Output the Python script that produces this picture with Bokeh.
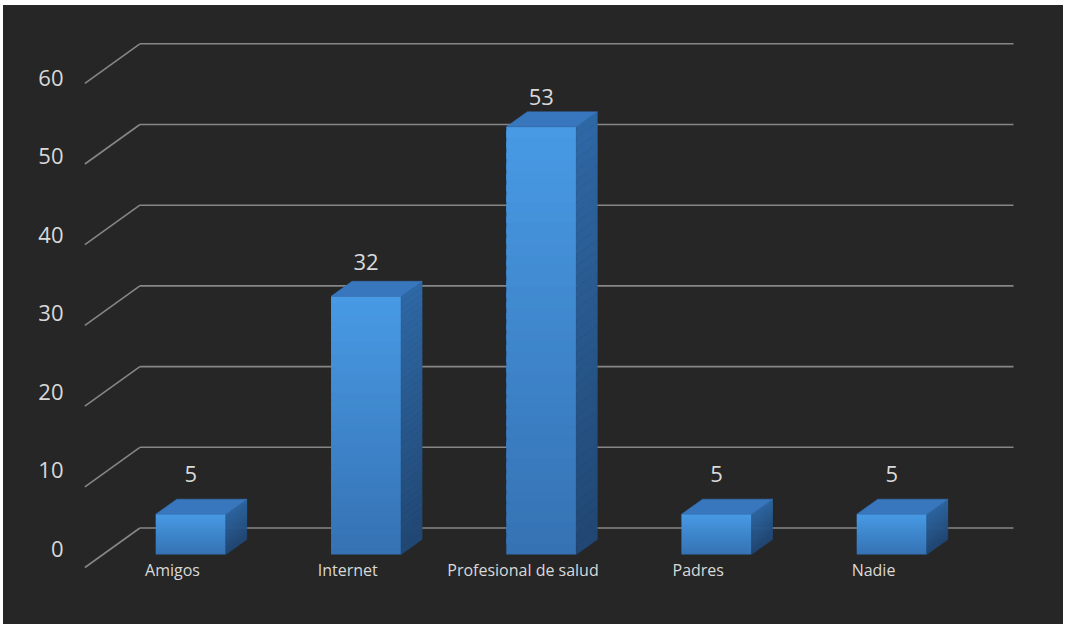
from bokeh.plotting import figure
from bokeh.models import Range1d, LinearAxis, FixedTicker
from bokeh.core.properties import value
from bokeh.embed import file_html
from bokeh.resources import INLINE

# ---- data ----
categories = ["Amigos", "Internet", "Profesional de salud", "Padres", "Nadie"]
values = [5, 32, 53, 5, 5]
y_ticks = [0, 10, 20, 30, 40, 50, 60]

# ---- style ----
BG = "#262626"
TXT = "#d9d9d9"
GRID = "#868686"
FONT = "Open Sans"

W, H = 1060, 619
ML = 72
# front-plane mapping in figure pixels
PX0 = 169.0     # x pixel of category 0
PXU = 175.25    # px per category
PY0 = 562.0     # y pixel (from top) of value 0
PYU = 8.07      # px per value unit
# label projection
LY0 = 543.0
LYU = 7.85

x_start = (ML - PX0) / PXU
x_end = (W - PX0) / PXU
y_start = (PY0 - H) / PYU
y_end = PY0 / PYU

# depth offsets in data units
DXu = 55 / PXU
DYu = 39.5 / PYU
BX = 18.3 / PXU
BY = 13 / PYU
SX = 21 / PXU
SY = 15 / PYU
HW = 35 / PXU

p = figure(width=W, height=H,
           x_range=Range1d(x_start, x_end), y_range=Range1d(y_start, y_end),
           output_backend="svg", toolbar_location=None,
           background_fill_color=None, border_fill_color=None,
           outline_line_color=None,
           min_border_left=ML, min_border_right=0, min_border_top=0, min_border_bottom=0,
           x_axis_location=None, y_axis_location=None,
           margin=(5, 2, 0, 3),
           styles={"background-color": BG})
p.grid.grid_line_color = None
p.extra_y_ranges = {"lab": Range1d((LY0 - H) / LYU, LY0 / LYU)}

n = len(categories)
# gridlines: side wall diagonals + back wall horizontals
p.segment(x0=[-0.5] * len(y_ticks), y0=y_ticks,
          x1=[-0.5 + DXu] * len(y_ticks), y1=[t + DYu for t in y_ticks],
          line_color=GRID, line_width=1.6)
p.segment(x0=[-0.5 + DXu] * len(y_ticks), y0=[t + DYu for t in y_ticks],
          x1=[n - 0.5 + DXu - 0.015] * len(y_ticks), y1=[t + DYu for t in y_ticks],
          line_color=GRID, line_width=1.6)


def mix(c1, c2, f):
    return "#%02x%02x%02x" % tuple(int(round(a + (b - a) * f)) for a, b in zip(c1, c2))


FRONT_TOP = (0x48, 0x9a, 0xe5)
FRONT_BOT = (0x35, 0x72, 0xb3)
SIDE_TOP = (0x2e, 0x68, 0xa5)
SIDE_BOT = (0x21, 0x47, 0x73)
TOP_COL = "#3876bd"

N = 40
for i, v in enumerate(values):
    xl = i - HW + BX
    xr = i + HW + BX
    y0 = BY
    y1 = v + BY
    step = (y1 - y0) / N
    lefts, rights, bots, tops, cols = [], [], [], [], []
    sxs, sys_, scols = [], [], []
    for k in range(N):
        a = y0 + step * k
        b = min(y0 + step * (k + 1.6), y1)
        bs = y0 + step * (k + 1)
        f = (k + 0.5) / N
        lefts.append(xl); rights.append(xr); bots.append(a); tops.append(b)
        cols.append(mix(FRONT_BOT, FRONT_TOP, f))
        sxs.append([xr, xr + SX, xr + SX, xr])
        sys_.append([a, a + SY, bs + SY, bs])
        scols.append(mix(SIDE_BOT, SIDE_TOP, f))
    p.quad(left=lefts, right=rights, bottom=bots, top=tops,
           fill_color=cols, line_color=None)
    p.patches(xs=sxs, ys=sys_, fill_color=scols, line_color=scols, line_width=0.6)
    p.patch(x=[xl, xr, xr + SX, xl + SX], y=[y1, y1, y1 + SY, y1 + SY],
            fill_color=TOP_COL, line_color=TOP_COL, line_width=0.5)

# value labels
p.text(x=[i + BX for i in range(n)], y=[v + 4.5 for v in values],
       text=[str(v) for v in values], y_range_name="lab",
       text_align="center", text_baseline="middle",
       text_font=value(FONT), text_font_size="22px", text_color=TXT)

# category labels
p.text(x=list(range(n)), y=[-0.37] * n, text=categories,
       text_align="center", text_baseline="middle",
       text_font=value(FONT), text_font_size="16px", text_color=TXT)

ax = LinearAxis(y_range_name="lab", ticker=FixedTicker(ticks=y_ticks),
                axis_line_color=None, major_tick_line_color=None,
                minor_tick_line_color=None, major_tick_out=0, major_tick_in=0,
                major_label_standoff=12,
                major_label_text_font=FONT, major_label_text_font_size="22px",
                major_label_text_color=TXT)
p.add_layout(ax, "left")

open("out.html", "w").write(file_html(p, INLINE))
